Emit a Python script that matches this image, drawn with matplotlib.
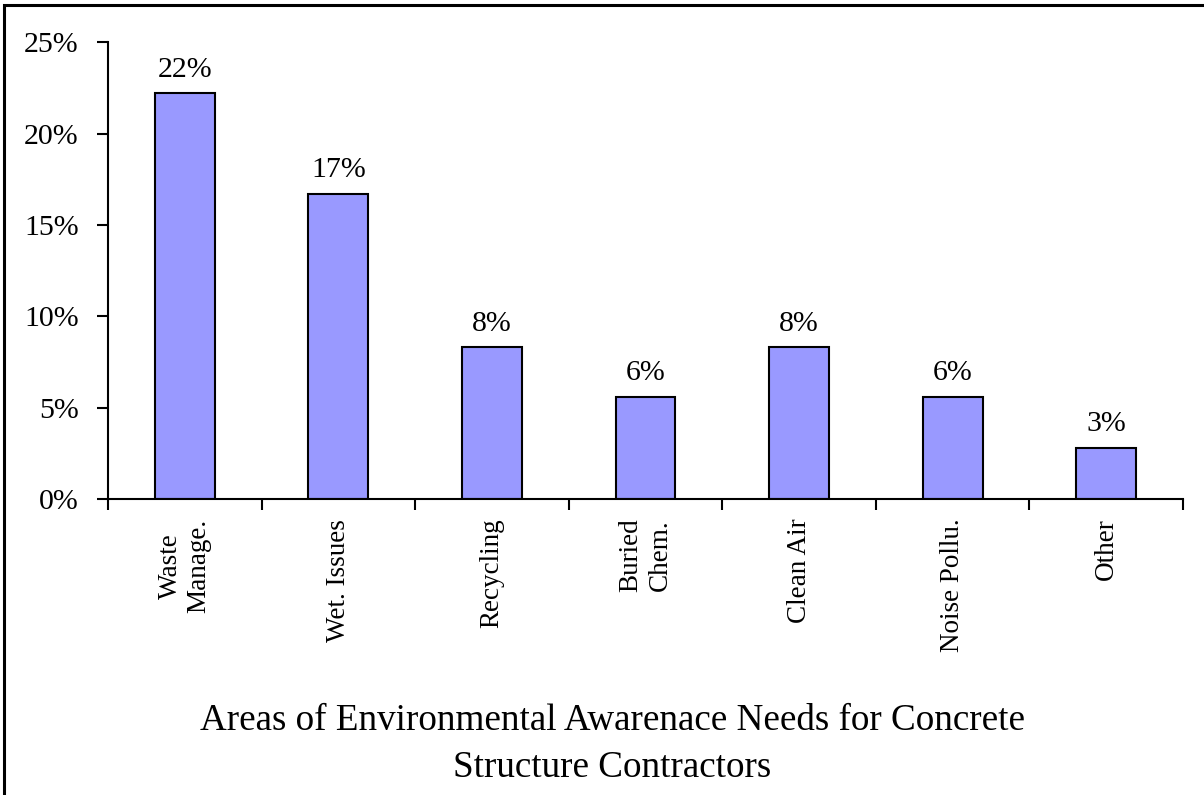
import numpy as np
import matplotlib
matplotlib.use('Agg')
import matplotlib.pyplot as plt
from matplotlib.patches import Rectangle

# 数据
categories = ['Waste\nManage.', 'Wet. Issues', 'Recycling', 'Buried\nChem.',
              'Clean Air', 'Noise Pollu.', 'Other']
values = [22.2, 16.7, 8.3, 5.6, 8.3, 5.6, 2.8]
labels = ['22%', '17%', '8%', '6%', '8%', '6%', '3%']
yticks = [0, 5, 10, 15, 20, 25]
title_lines = ['Areas of Environmental Awarenace Needs for Concrete',
               'Structure Contractors']

plt.rcParams['font.family'] = ['Liberation Serif', 'DejaVu Serif']

fig = plt.figure(figsize=(12.04, 7.95), dpi=100)
ax = fig.add_axes([0.0897, 0.372, 0.8929, 0.575])

x = np.arange(len(categories))
ax.bar(x, values, width=0.39, color='#9999FF', edgecolor='black', linewidth=1.5)

# 数值标签
for xi, v, lab in zip(x, values, labels):
    ax.text(xi, v + 1.3, lab, ha='center', va='center', fontsize=21.5)

ax.set_xlim(-0.5, len(categories) - 0.5)
ax.set_ylim(0, 25)
ax.set_yticks(yticks)
ax.set_yticklabels([f'{t}%' for t in yticks], fontsize=21.5)

# x轴刻度在类别边界，标签在中间
ax.set_xticks(np.arange(len(categories) + 1) - 0.5)
ax.set_xticklabels([])
ax.set_xticks(x, minor=True)
ax.set_xticklabels(categories, minor=True, rotation=90, fontsize=19.5,
                   va='top', ha='center', multialignment='center')
ax.tick_params(axis='x', which='minor', length=0, pad=14)
ax.tick_params(axis='x', which='major', length=8, width=1.5, direction='out')
ax.tick_params(axis='y', length=8, width=1.5, direction='out', pad=13)

for side in ['top', 'right']:
    ax.spines[side].set_visible(False)
for side in ['left', 'bottom']:
    ax.spines[side].set_linewidth(1.5)

# 标题（图下方，两行）
title_x = 612 / 1204
fig.text(title_x, 1 - 730 / 795, title_lines[0], ha='center', va='baseline',
         fontsize=26.7)
fig.text(title_x, 1 - 777 / 795, title_lines[1], ha='center', va='baseline',
         fontsize=26.7)

# 外边框
fig.patches.append(Rectangle((4 / 1204, -0.05), 1.1, 1.05 - 5 / 795,
                             transform=fig.transFigure, fill=False,
                             edgecolor='black', linewidth=2.2))

fig.savefig('out.png', dpi=100)
